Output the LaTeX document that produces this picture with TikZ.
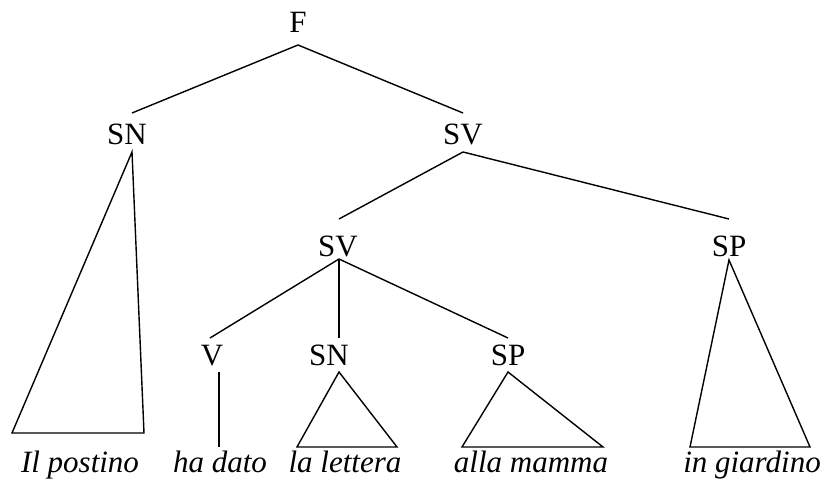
\documentclass[tikz,border=0pt]{standalone}
\usepackage{fontspec}
\setmainfont{Liberation Serif}
\usepackage{tikz}

\begin{document}
\begin{tikzpicture}[x=1pt,y=1pt,line width=1.4pt,
  cat/.style={anchor=base,inner sep=0pt,font=\fontsize{31}{37}\selectfont},
  word/.style={anchor=base,inner sep=0pt,font=\fontsize{31}{37}\selectfont\itshape}]
\useasboundingbox (0,0) rectangle (825,481);
% categories
\node[cat] (F) at (298,448) {F};
\node[cat] (SNa) at (127,336) {SN};
\node[cat] (SVa) at (463,336) {SV};
\node[cat] (SVb) at (338,224) {SV};
\node[cat] (SPa) at (729,224) {SP};
\node[cat] (V) at (212,115) {V};
\node[cat] (SNb) at (329,115) {SN};
\node[cat] (SPb) at (508,115) {SP};
% words
\node[word] (w1) at (80,8) {Il postino};
\node[word] (w2) at (220,8) {ha dato};
\node[word] (w3) at (345,8) {la lettera};
\node[word] (w4) at (531,8) {alla mamma};
\node[word] (w5) at (752,8) {in giardino};

\draw ([yshift=-12]F.base) -- ([xshift=5,yshift=32]SNa.base);
\draw ([yshift=-12]F.base) -- ([yshift=32]SVa.base);
\draw ([yshift=-7]SVa.base) -- ([xshift=1,yshift=38]SVb.base);
\draw ([yshift=-7]SVa.base) -- ([yshift=38]SPa.base);
\draw ([xshift=1,yshift=-2]SVb.base) -- ([xshift=-2,yshift=28]V.base);
\draw ([xshift=1,yshift=-2]SVb.base) -- ([xshift=10,yshift=28]SNb.base);
\draw ([xshift=1,yshift=-2]SVb.base) -- ([yshift=28]SPb.base);
% V to word
\draw ([xshift=7,yshift=-6]V.base) -- ([xshift=-1,yshift=26]w2.base);
% triangles
\draw ([xshift=5,yshift=-7]SNa.base) -- (12,48) -- (144,48) -- cycle;
\draw ([xshift=10,yshift=-6]SNb.base) -- (297,34) -- (397,34) -- cycle;
\draw ([yshift=-6]SPb.base) -- (462,34) -- (603,34) -- cycle;
\draw ([yshift=-3]SPa.base) -- (690,34) -- (810,34) -- cycle;
\end{tikzpicture}
\end{document}
